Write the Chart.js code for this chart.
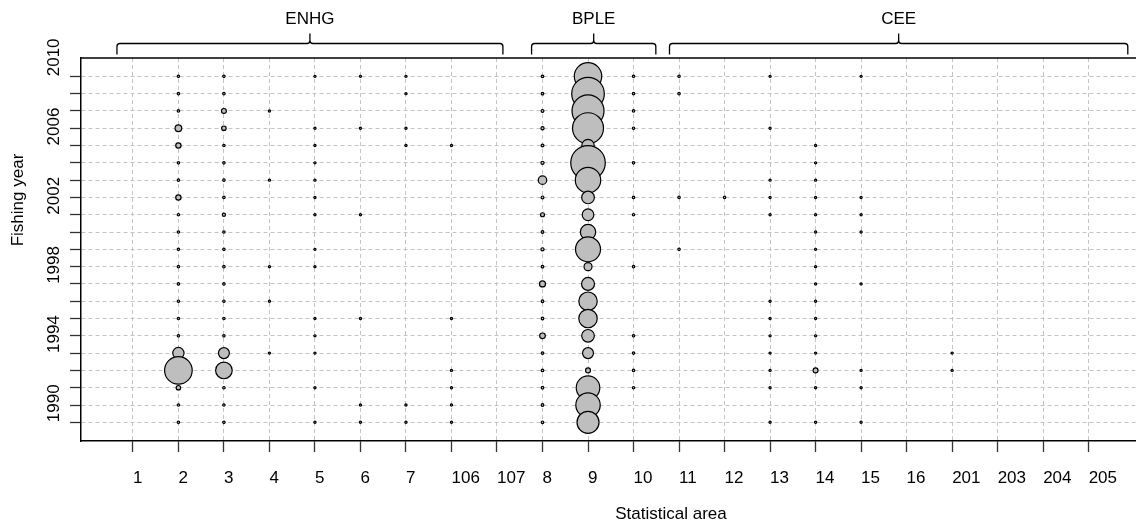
<!DOCTYPE html>
<html>
<head>
<meta charset="utf-8">
<script src="https://cdn.jsdelivr.net/npm/chart.js@4.4.0/dist/chart.umd.min.js"></script>
<style>
  html, body { margin: 0; padding: 0; background: #fff; overflow: hidden; }
  #wrap { width: 1136px; height: 522px; }
</style>
</head>
<body>
<div id="wrap"><canvas id="myChart" width="1136" height="522"></canvas></div>
<script>
// statistical areas, in the order they sit along the x axis
var areas = ['1', '2', '3', '4', '5', '6', '7', '106', '107', '8', '9', '10',
             '11', '12', '13', '14', '15', '16', '201', '203', '204', '205'];
// fishing years (rows) and the years that get a label
var years = [1990, 1991, 1992, 1993, 1994, 1995, 1996, 1997, 1998, 1999, 2000,
             2001, 2002, 2003, 2004, 2005, 2006, 2007, 2008, 2009, 2010];
var yearLabels = [1990, 1994, 1998, 2002, 2006, 2010];

// catch per area, one value per fishing year 1990..2010 (0 = none)
var area1   = [0,0,0,0,0,0,0,0,0,0,0,0,0,0,0,0,0,0,0,0,0];
var area2   = [1.5,1.5,5,190,32,1.5,1.5,1.5,1.5,1.5,1.5,1.5,1.5,7,1.5,1.5,7,11,1.5,1.5,1.5];
var area3   = [1.5,1.5,1.5,69,30,1.5,1.5,1.5,1.5,1.5,1.5,1.5,2.5,1.5,1.5,1.5,1.5,5,6,1.5,1.5];
var area4   = [0,0,0,0,1.2,0,0,1.2,0,1.2,0,0,0,0,1.2,0,0,0,1.2,0,0];
var area5   = [1.2,0,1.2,0,1.2,1.2,1.2,0,0,1.2,1.2,0,1.2,1.2,1.2,1.2,1.2,1.2,0,0,1.2];
var area6   = [1.2,1.2,0,0,0,0,1.2,0,0,0,0,0,1.2,0,0,0,0,1.2,0,0,1.2];
var area7   = [1.2,1.2,0,0,0,0,0,0,0,0,0,0,0,0,0,0,1.2,1.2,0,1.2,1.2];
var area106 = [1.2,1.2,1.2,1.2,0,0,1.2,0,0,0,0,0,0,0,0,0,1.2,0,0,0,0];
var area107 = [0,0,0,0,0,0,0,0,0,0,0,0,0,0,0,0,0,0,0,0,0];
var area8   = [1.7,1.7,1.7,1.7,1.7,8,1.7,1.7,9,1.7,2.5,1.7,4,2,18,2.5,2,2.5,2,1.7,1.7];
var area9   = [121,149,139,6,30,40,85,85,42,16,156,59,34,40,161,299,38,240,256,266,188];
var area10  = [0,0,1.5,1.5,1.5,1.5,0,0,0,1.5,0,0,1.5,1.5,0,1.5,0,1.5,1.5,1.5,1.5];
var area11  = [0,0,0,0,0,0,0,0,0,0,1.5,0,0,1.5,0,0,0,0,0,1.5,1.5];
var area12  = [0,0,0,0,0,0,0,0,0,0,0,0,0,1.5,0,0,0,0,0,0,0];
var area13  = [1.2,0,1.2,1.2,1.2,1.2,1.2,1.2,0,0,0,0,1.2,1.2,1.2,0,0,1.2,0,0,1.2];
var area14  = [1.2,0,1.2,6,1.2,1.2,1.2,1.2,1.2,1.2,1.2,1.2,1.2,1.2,1.2,1.2,1.2,0,0,0,0];
var area15  = [1.2,0,1.2,1.2,0,0,0,0,1.2,0,0,1.2,1.2,1.2,0,0,0,0,0,0,1.2];
var area16  = [0,0,0,0,0,0,0,0,0,0,0,0,0,0,0,0,0,0,0,0,0];
var area201 = [0,0,0,1.2,1.2,0,0,0,0,0,0,0,0,0,0,0,0,0,0,0,0];
var area203 = [0,0,0,0,0,0,0,0,0,0,0,0,0,0,0,0,0,0,0,0,0];
var area204 = [0,0,0,0,0,0,0,0,0,0,0,0,0,0,0,0,0,0,0,0,0];
var area205 = [0,0,0,0,0,0,0,0,0,0,0,0,0,0,0,0,0,0,0,0,0];

var areaValues = [area1, area2, area3, area4, area5, area6, area7, area106, area107,
                  area8, area9, area10, area11, area12, area13, area14, area15, area16,
                  area201, area203, area204, area205];

// area groups shown with brackets above the plot
var groupNames = ['ENHG', 'BPLE', 'CEE'];
var groupFrom  = [-0.35, 8.76, 11.79];
var groupTo    = [8.13, 11.49, 21.86];

// build bubble points (radius ~ sqrt of catch)
var points = [];
areas.forEach(function(a, i) {
  for (var j = years.length - 1; j >= 0; j--) {
    var v = areaValues[i][j];
    if (v > 0) points.push({x: i, y: years[j], r: Math.sqrt(v)});
  }
});

Chart.defaults.font.family = '"Liberation Sans", Arial, sans-serif';
Chart.defaults.font.size = 17;
Chart.defaults.color = '#000';

function bracket(ctx, x1, x2, yLine, yEnd, yTip) {
  var xm = (x1 + x2) / 2, c = 3;
  ctx.beginPath();
  ctx.moveTo(x1, yEnd);
  ctx.lineTo(x1, yLine + c);
  ctx.quadraticCurveTo(x1, yLine, x1 + c, yLine);
  ctx.lineTo(xm - c, yLine);
  ctx.quadraticCurveTo(xm, yLine, xm, yLine - c);
  ctx.lineTo(xm, yTip);
  ctx.moveTo(xm, yLine - c);
  ctx.quadraticCurveTo(xm, yLine, xm + c, yLine);
  ctx.lineTo(x2 - c, yLine);
  ctx.quadraticCurveTo(x2, yLine, x2, yLine + c);
  ctx.lineTo(x2, yEnd);
  ctx.stroke();
}

// no extra room for the outer tick labels
function noPad(s) {
  s.paddingLeft = 0; s.paddingRight = 0; s.paddingTop = 0; s.paddingBottom = 0;
}

var extras = {
  id: 'extras',
  afterDraw: function(chart) {
    var ctx = chart.ctx, area = chart.chartArea, xs = chart.scales.x;
    ctx.save();
    // top of the box
    ctx.strokeStyle = '#000';
    ctx.lineWidth = 1.5;
    ctx.beginPath();
    ctx.moveTo(area.left, area.top);
    ctx.lineTo(area.right, area.top);
    ctx.stroke();

    // group brackets + names
    ctx.lineWidth = 1.3;
    ctx.fillStyle = '#000';
    ctx.font = '17px "Liberation Sans", Arial, sans-serif';
    ctx.textAlign = 'center';
    ctx.textBaseline = 'alphabetic';
    for (var g = 0; g < groupNames.length; g++) {
      var x1 = xs.getPixelForValue(groupFrom[g]);
      var x2 = xs.getPixelForValue(groupTo[g]);
      bracket(ctx, x1, x2, area.top - 14.5, area.top - 3.5, area.top - 24.5);
      ctx.fillText(groupNames[g], (x1 + x2) / 2, area.top - 33.7);
    }

    // axis titles
    ctx.fillText('Statistical area', 671, 519);
    ctx.translate(23, 200);
    ctx.rotate(-Math.PI / 2);
    ctx.fillText('Fishing year', 0, 0);
    ctx.restore();
  }
};

var ctx = document.getElementById('myChart').getContext('2d');
var chart = new Chart(ctx, {
  type: 'bubble',
  data: {
    datasets: [{
      data: points,
      backgroundColor: 'rgb(190,190,190)',
      borderColor: '#000',
      borderWidth: 1.2,
      hoverRadius: 0
    }]
  },
  options: {
    responsive: false,
    animation: false,
    events: [],
    layout: { autoPadding: false, padding: { top: 58, left: 0, right: 0, bottom: 0 } },
    plugins: { legend: { display: false }, tooltip: { enabled: false } },
    scales: {
      x: {
        type: 'linear',
        min: -1.14,
        max: 22.04,
        afterBuildTicks: function(s) { s.ticks = areas.map(function(a, i) { return {value: i}; }); },
        afterFit: function(s) { s.height = 81; noPad(s); },
        ticks: {
          autoSkip: false, minRotation: 0, maxRotation: 0, align: 'start', padding: 16,
          callback: function(v) { return areas[v]; }
        },
        grid: { color: '#c4c4c4', lineWidth: 1, tickLength: 11, tickColor: '#333', tickWidth: 1.3, tickBorderDash: [] },
        border: { color: '#000', width: 1.5, dash: [4, 3] }
      },
      y: {
        type: 'linear',
        min: 1988.92,
        max: 2011.06,
        afterBuildTicks: function(s) { s.ticks = years.map(function(y) { return {value: y}; }); },
        afterFit: function(s) { s.width = 81; noPad(s); },
        ticks: {
          autoSkip: false, minRotation: 90, maxRotation: 90, crossAlign: 'center', padding: -3, labelOffset: -19,
          callback: function(v) { return yearLabels.indexOf(v) >= 0 ? String(v) : ''; }
        },
        grid: { color: '#c4c4c4', lineWidth: 1, tickLength: 11, tickColor: '#333', tickWidth: 1.3, tickBorderDash: [] },
        border: { color: '#000', width: 1.5, dash: [4, 3] }
      }
    }
  },
  plugins: [extras]
});
</script>
</body>
</html>
